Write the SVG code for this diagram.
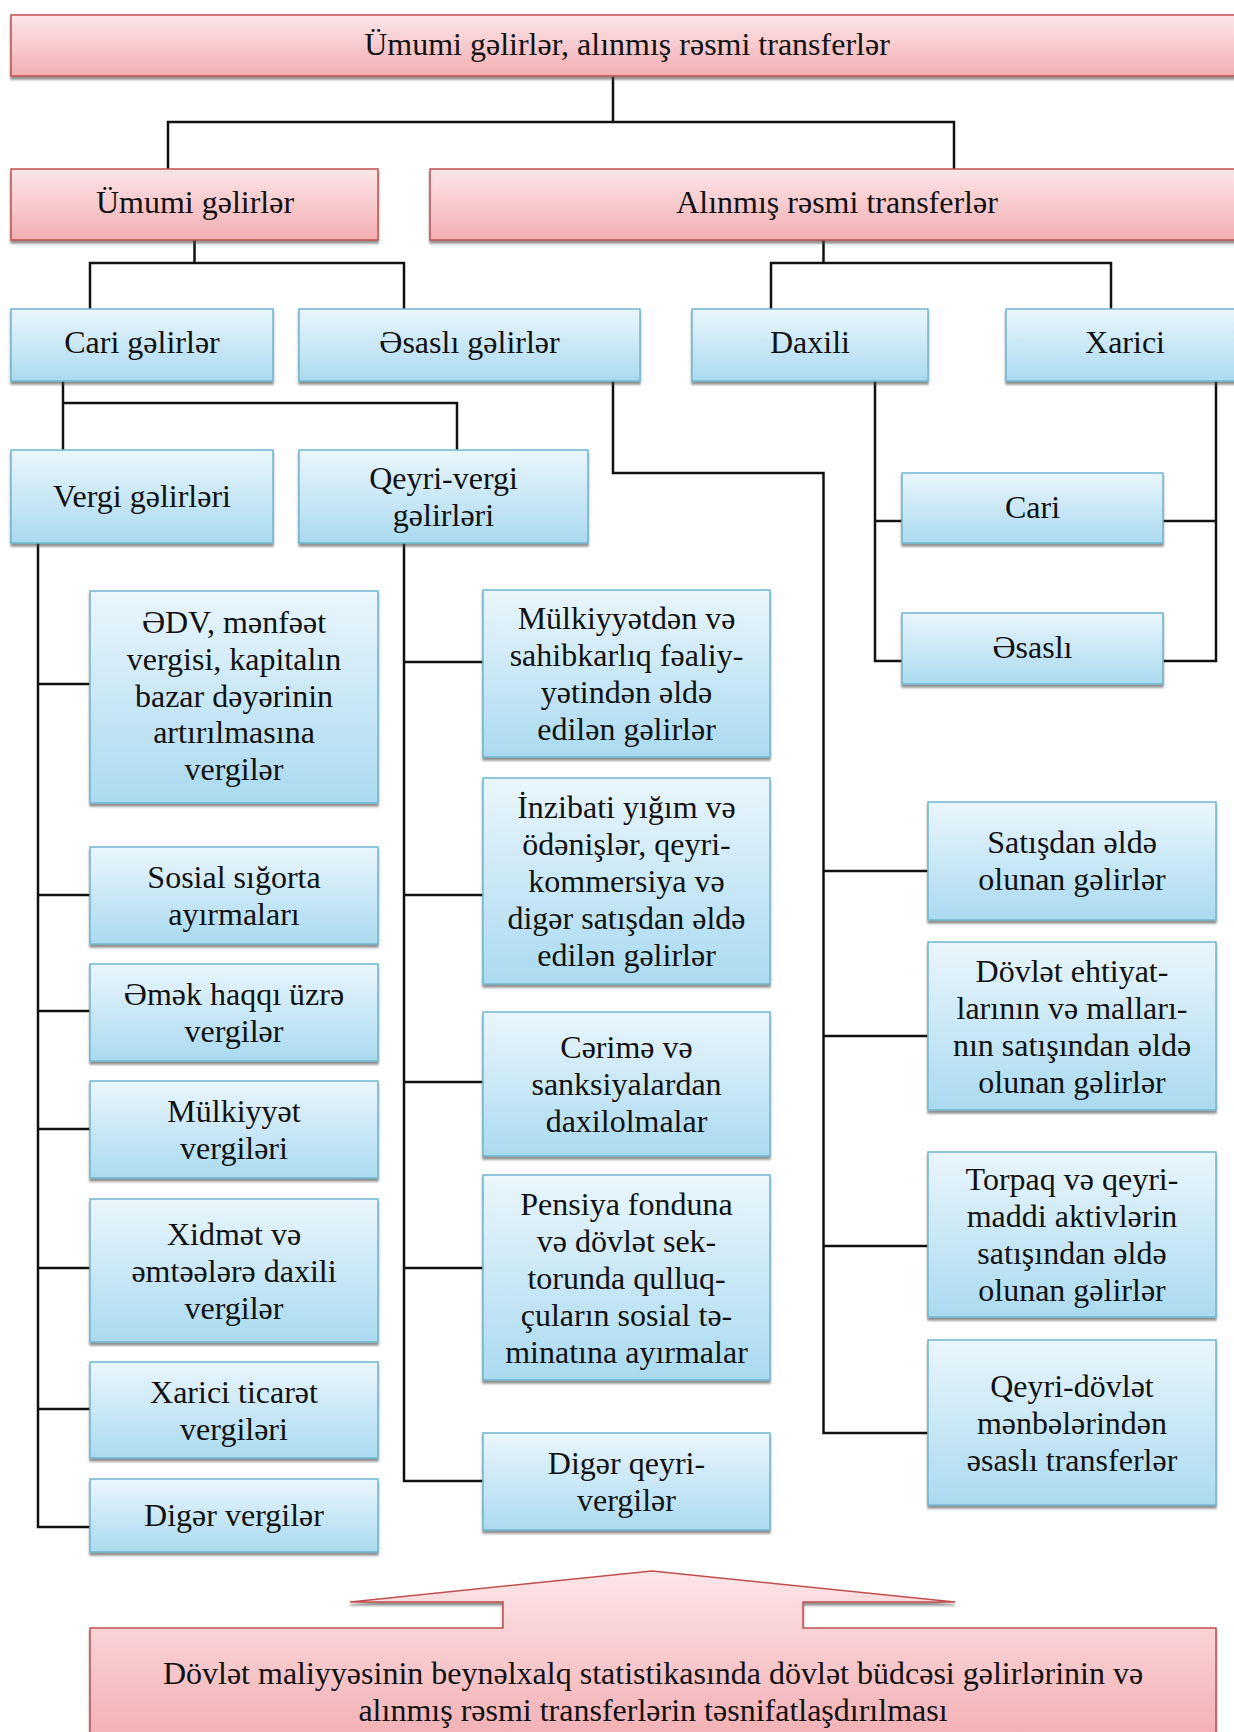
<svg xmlns="http://www.w3.org/2000/svg" width="1234" height="1732" viewBox="0 0 1234 1732">
<defs>
<linearGradient id="pinkG" x1="0" y1="0" x2="0" y2="1">
<stop offset="0" stop-color="#fde6e8"/>
<stop offset="1" stop-color="#f2aeb3"/>
</linearGradient>
<linearGradient id="blueG" x1="0" y1="0" x2="0" y2="1">
<stop offset="0" stop-color="#eaf6fc"/>
<stop offset="1" stop-color="#aadaf0"/>
</linearGradient>
<filter id="sh" x="-5%" y="-5%" width="110%" height="120%">
<feDropShadow dx="0" dy="3" stdDeviation="1.2" flood-color="#4a4a4a" flood-opacity="0.6"/>
</filter>
</defs>
<style>
.pink{fill:url(#pinkG);stroke:#c0504d;stroke-width:1.5;filter:url(#sh)}
.blue{fill:url(#blueG);stroke:#6fb7cf;stroke-width:1.5;filter:url(#sh)}
text{font-family:"Liberation Serif","Times New Roman",serif;font-size:32px;fill:#111;text-anchor:middle}
.con path{fill:none;stroke:#111;stroke-width:2.5}
</style>
<rect width="1234" height="1732" fill="#ffffff"/>

<g class="con" id="connectors">
<path d="M613,76 V122"/>
<path d="M168,169 V122 H954 V169"/>
<path d="M194.5,240 V263"/>
<path d="M90,309 V263 H404 V309"/>
<path d="M823.5,240 V263"/>
<path d="M771,309 V263 H1111 V309"/>
<path d="M63,381 V450"/>
<path d="M63,403 H457 V450"/>
<path d="M613,381 V473 H823.5 V1433 H928"/>
<path d="M823.5,871 H928 M823.5,1036 H928 M823.5,1246 H928"/>
<path d="M875,381 V661 H902 M875,521 H902"/>
<path d="M1216,381 V661 H1163 M1216,521 H1163"/>
<path d="M38,543 V1527 H90"/>
<path d="M38,684 H90 M38,895 H90 M38,1011 H90 M38,1129 H90 M38,1268 H90 M38,1409 H90"/>
<path d="M404,543 V1481 H483"/>
<path d="M404,662 H483 M404,895 H483 M404,1082 H483 M404,1268 H483"/>
</g>

<g id="n-top"><rect class="pink" x="11" y="15" width="1235" height="61"/><text x="627" y="55">Ümumi gəlirlər, alınmış rəsmi transferlər</text></g>
<g id="n-umumi"><rect class="pink" x="11" y="169" width="367" height="71"/><text x="195" y="213">Ümumi gəlirlər</text></g>
<g id="n-alinmis"><rect class="pink" x="430" y="169" width="816" height="71"/><text x="837" y="213">Alınmış rəsmi transferlər</text></g>

<g id="n-cari"><rect class="blue" x="11" y="309" width="262" height="72"/><text x="142" y="353">Cari gəlirlər</text></g>
<g id="n-esasli"><rect class="blue" x="299" y="309" width="341" height="72"/><text x="469.5" y="353">Əsaslı gəlirlər</text></g>
<g id="n-daxili"><rect class="blue" x="692" y="309" width="236" height="72"/><text x="810" y="353">Daxili</text></g>
<g id="n-xarici"><rect class="blue" x="1006" y="309" width="240" height="72"/><text x="1125" y="353">Xarici</text></g>

<g id="n-vergi"><rect class="blue" x="11" y="450" width="262" height="93"/><text x="142" y="507">Vergi gəlirləri</text></g>
<g id="n-qeyrivergi"><rect class="blue" x="299" y="450" width="289" height="93"/><text x="443.5" y="489">Qeyri-vergi</text><text x="443.5" y="526">gəlirləri</text></g>

<g id="n-cari-s"><rect class="blue" x="902" y="473" width="261" height="70"/><text x="1032.5" y="518">Cari</text></g>
<g id="n-esasli-s"><rect class="blue" x="902" y="613" width="261" height="71"/><text x="1032.5" y="658">Əsaslı</text></g>

<g id="n-edv"><rect class="blue" x="90" y="591" width="288" height="212"/>
<text x="234" y="633">ƏDV, mənfəət</text><text x="234" y="670">vergisi, kapitalın</text><text x="234" y="707">bazar dəyərinin</text><text x="234" y="743">artırılmasına</text><text x="234" y="780">vergilər</text></g>
<g id="n-sosial"><rect class="blue" x="90" y="847" width="288" height="97"/>
<text x="234" y="888">Sosial sığorta</text><text x="234" y="925">ayırmaları</text></g>
<g id="n-emek"><rect class="blue" x="90" y="964" width="288" height="97"/>
<text x="234" y="1005">Əmək haqqı üzrə</text><text x="234" y="1042">vergilər</text></g>
<g id="n-mulkiyyet"><rect class="blue" x="90" y="1081" width="288" height="97"/>
<text x="234" y="1122">Mülkiyyət</text><text x="234" y="1159">vergiləri</text></g>
<g id="n-xidmet"><rect class="blue" x="90" y="1199" width="288" height="143"/>
<text x="234" y="1245">Xidmət və</text><text x="234" y="1282">əmtəələrə daxili</text><text x="234" y="1319">vergilər</text></g>
<g id="n-xarici-ticaret"><rect class="blue" x="90" y="1362" width="288" height="96"/>
<text x="234" y="1403">Xarici ticarət</text><text x="234" y="1440">vergiləri</text></g>
<g id="n-diger"><rect class="blue" x="90" y="1479" width="288" height="73"/>
<text x="234" y="1526">Digər vergilər</text></g>

<g id="n-mulkiyyetden"><rect class="blue" x="483" y="590" width="287" height="167"/>
<text x="626.5" y="629">Mülkiyyətdən və</text><text x="626.5" y="666">sahibkarlıq fəaliy-</text><text x="626.5" y="703">yətindən əldə</text><text x="626.5" y="740">edilən gəlirlər</text></g>
<g id="n-inzibati"><rect class="blue" x="483" y="778" width="287" height="206"/>
<text x="626.5" y="818">İnzibati yığım və</text><text x="626.5" y="855">ödənişlər, qeyri-</text><text x="626.5" y="892">kommersiya və</text><text x="626.5" y="929">digər satışdan əldə</text><text x="626.5" y="966">edilən gəlirlər</text></g>
<g id="n-cerime"><rect class="blue" x="483" y="1012" width="287" height="144"/>
<text x="626.5" y="1058">Cərimə və</text><text x="626.5" y="1095">sanksiyalardan</text><text x="626.5" y="1132">daxilolmalar</text></g>
<g id="n-pensiya"><rect class="blue" x="483" y="1175" width="287" height="205"/>
<text x="626.5" y="1215">Pensiya fonduna</text><text x="626.5" y="1252">və dövlət sek-</text><text x="626.5" y="1289">torunda qulluq-</text><text x="626.5" y="1326">çuların sosial tə-</text><text x="626.5" y="1363">minatına ayırmalar</text></g>
<g id="n-diger-qeyri"><rect class="blue" x="483" y="1433" width="287" height="97"/>
<text x="626.5" y="1474">Digər qeyri-</text><text x="626.5" y="1511">vergilər</text></g>

<g id="n-satisdan"><rect class="blue" x="928" y="802" width="288" height="118"/>
<text x="1072" y="853">Satışdan əldə</text><text x="1072" y="890">olunan gəlirlər</text></g>
<g id="n-dovlet"><rect class="blue" x="928" y="942" width="288" height="168"/>
<text x="1072" y="982">Dövlət ehtiyat-</text><text x="1072" y="1019">larının və malları-</text><text x="1072" y="1056">nın satışından əldə</text><text x="1072" y="1093">olunan gəlirlər</text></g>
<g id="n-torpaq"><rect class="blue" x="928" y="1152" width="288" height="165"/>
<text x="1072" y="1190">Torpaq və qeyri-</text><text x="1072" y="1227">maddi aktivlərin</text><text x="1072" y="1264">satışından əldə</text><text x="1072" y="1301">olunan gəlirlər</text></g>
<g id="n-qeyri-dovlet"><rect class="blue" x="928" y="1340" width="288" height="165"/>
<text x="1072" y="1397">Qeyri-dövlət</text><text x="1072" y="1434">mənbələrindən</text><text x="1072" y="1471">əsaslı transferlər</text></g>

<g id="n-bottom">
<path class="pink" d="M90,1628 H503 V1602 H350 L652,1571 L955,1602 H803 V1628 H1216 V1745 H90 Z"/>
<text x="653" y="1684">Dövlət maliyyəsinin beynəlxalq statistikasında dövlət büdcəsi gəlirlərinin və</text>
<text x="653" y="1721">alınmış rəsmi transferlərin təsnifatlaşdırılması</text>
</g>
</svg>
